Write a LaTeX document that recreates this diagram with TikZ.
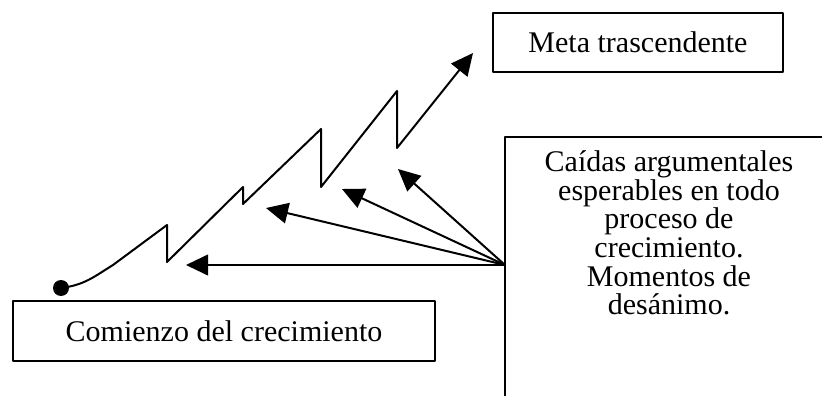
\documentclass[tikz,border=0pt]{standalone}
\usepackage{fontspec}
\setmainfont{Liberation Serif}
\usetikzlibrary{arrows.meta}

\begin{document}
\begin{tikzpicture}[line cap=round,line join=round,>={Triangle[length=16.5pt,width=15.5pt]},x=0.75pt,y=-0.75pt,line width=1.5pt,
  caja/.style={draw,inner sep=0pt,font=\fontsize{22.5}{21.5}\selectfont},
  texto/.style={align=center,inner sep=0pt,font=\fontsize{22.5}{21.5}\selectfont}]
\useasboundingbox (0,0) rectangle (822,396);
\clip (0,0) rectangle (822,396);
% cajas de texto
\node[caja,minimum width=217.5pt,minimum height=44.25pt] (meta) at (638,42.5) {Meta trascendente};
\node[caja,minimum width=316.5pt,minimum height=45pt] (comienzo) at (224,331) {Comienzo del crecimiento};
\draw (505,137) rectangle (835,420);
\node[texto] (caidas) at (669,233) {Ca\'idas argumentales\\esperables en todo\\proceso de\\crecimiento.\\Momentos de\\des\'animo.};
% linea de crecimiento
\node[circle,fill,inner sep=0pt,minimum size=12pt] (inicio) at (61,288) {};
\coordinate (fin) at (473,53);
\draw[->] (inicio.center) .. controls (85,285) and (95,276) .. (113,265) -- (167,225) -- (167,262)
  -- (243,187) -- (243,204) -- (321,129) -- (321,187) -- (397,91) -- (397,148) -- (fin);
% caidas
\coordinate (fuente) at (505,265);
\coordinate (c1) at (186,265);
\coordinate (c2) at (266,208);
\coordinate (c3) at (342,189);
\coordinate (c4) at (398,169);
\foreach \c in {c1,c2,c3,c4}
  \draw[->] (fuente) -- (\c);
\end{tikzpicture}
\end{document}
